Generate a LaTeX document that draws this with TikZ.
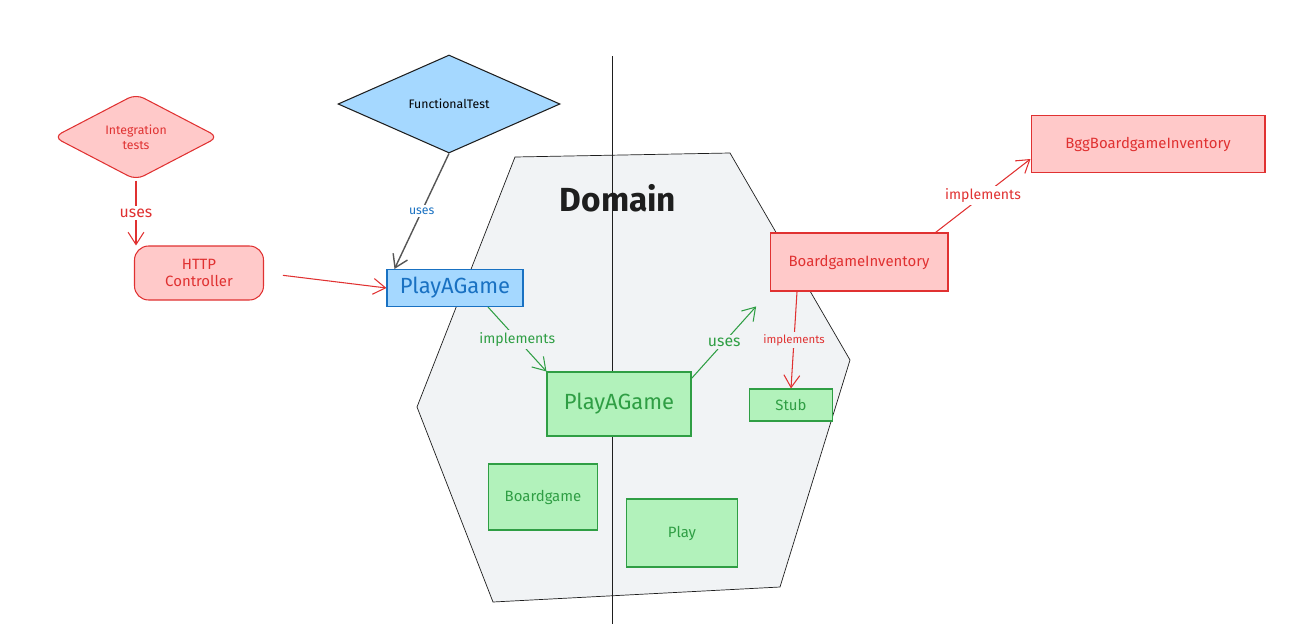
\documentclass[tikz,border=0pt]{standalone}
\usepackage{fontspec}
\setmainfont{Fira Sans}
\usetikzlibrary{arrows.meta,shapes.geometric,positioning,calc}
\definecolor{inkred}{HTML}{E03131}
\definecolor{fillred}{HTML}{FFC9C9}
\definecolor{inkblue}{HTML}{1971C2}
\definecolor{fillblue}{HTML}{A5D8FF}
\definecolor{inkgreen}{HTML}{2F9E44}
\definecolor{fillgreen}{HTML}{B2F2BB}
\definecolor{inkblack}{HTML}{1E1E1E}
\definecolor{domaingray}{HTML}{F1F3F5}

\begin{document}
\begin{tikzpicture}[x=0.02cm, y=-0.02cm, >={Straight Barb[length=7pt,width=9pt]},
  redbox/.style={rectangle, draw=inkred, fill=fillred, text=inkred, semithick, inner sep=2pt, font=\fontsize{8.5}{10}\selectfont},
  greenbox/.style={rectangle, draw=inkgreen, fill=fillgreen, text=inkgreen, semithick, inner sep=2pt, font=\fontsize{8.5}{10}\selectfont},
  lbl/.style={inner sep=1.5pt, font=\fontsize{8}{9}\selectfont}]
\useasboundingbox (0,0) rectangle (1301,636);
% Domain hexagon and split line
\filldraw[draw=inkblack, fill=domaingray] (515,157) -- (730,153) -- (850,360) -- (780,587) -- (493,602) -- (417,407) -- cycle;
\draw[inkblack] (612,56) -- (612,624);
\node[font=\fontsize{19}{22}\selectfont\bfseries, text=inkblack] (domain) at (618,198) {Domain};
% Tests
\node[diamond, draw=inkblack, fill=fillblue, semithick, minimum width=4.44cm, minimum height=1.96cm, inner sep=0pt, font=\fontsize{7}{8}\selectfont] (ft) at (449,104) {FunctionalTest};
\node[diamond, draw=inkred, fill=fillred, text=inkred, semithick, rounded corners=5pt, minimum width=3.3cm, minimum height=1.6cm, inner sep=0pt, align=center, font=\fontsize{7}{8.5}\selectfont] (it) at (136,137) {Integration\\tests};
% Adapters and ports
\node[redbox, rounded corners=8pt, minimum width=2.58cm, minimum height=1.08cm, align=center] (http) at (199,273) {HTTP\\Controller};
\node[rectangle, draw=inkblue, fill=fillblue, text=inkblue, semithick, minimum width=2.72cm, minimum height=0.74cm, font=\fontsize{12.5}{14}\selectfont] (pag) at (455,288) {PlayAGame};
\node[greenbox, minimum width=2.88cm, minimum height=1.28cm, font=\fontsize{12.5}{14}\selectfont] (impl) at (619,404) {PlayAGame};
\node[greenbox, minimum width=1.66cm, minimum height=0.64cm] (stub) at (791,405) {Stub};
\node[greenbox, minimum width=2.18cm, minimum height=1.32cm] (bg) at (543,497) {Boardgame};
\node[greenbox, minimum width=2.22cm, minimum height=1.36cm] (play) at (682,533) {Play};
\node[redbox, minimum width=3.56cm, minimum height=1.16cm] (inv) at (859,262) {BoardgameInventory};
\node[redbox, minimum width=4.68cm, minimum height=1.14cm] (bgg) at (1148,144) {BggBoardgameInventory};
% Connectors
\draw[->, semithick, inkred] (it.south) -- (it.south |- http.north) node[midway, lbl, fill=white, text=inkred, font=\fontsize{9}{10}\selectfont] {uses};
\draw[->, thick, inkblack!75] (ft.south) -- ([xshift=0.16cm]pag.north west) node[midway, lbl, fill=white, text=inkblue, font=\fontsize{7}{8}\selectfont] {uses};
\draw[->, semithick, inkred, shorten <=0.38cm] (http.east) -- (pag.west);
\draw[->, semithick, inkgreen] ([xshift=0.66cm]pag.south) -- (impl.north west) node[midway, lbl, fill=domaingray, text=inkgreen] {implements};
\draw[->, semithick, inkgreen, shorten >=0.4cm] ([yshift=-0.14cm]impl.north east) -- (inv.south west) node[pos=0.42, lbl, fill=domaingray, text=inkgreen, font=\fontsize{9}{10}\selectfont] {uses};
\draw[->, semithick, inkred] ([xshift=-1.24cm]inv.south) -- (stub.north) node[midway, lbl, fill=domaingray, text=inkred, font=\fontsize{6.5}{7}\selectfont] {implements};
\draw[->, semithick, inkred] ([xshift=-0.26cm]inv.north east) -- ([yshift=-0.3cm]bgg.west) node[midway, lbl, fill=white, text=inkred] {implements};
\end{tikzpicture}
\end{document}
